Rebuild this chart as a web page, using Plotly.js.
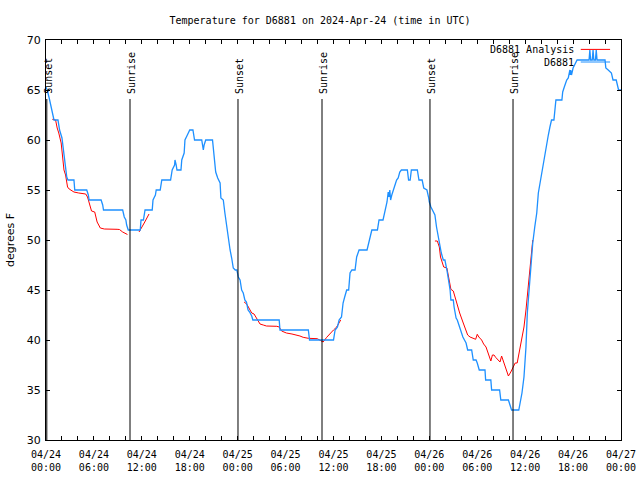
<!DOCTYPE html>
<html>
<head>
<meta charset="utf-8">
<script src="https://cdn.plot.ly/plotly-3.0.1.min.js"></script>
<style>html,body{margin:0;padding:0;background:#fff;}#chart{width:640px;height:480px;}</style>
</head>
<body>
<div id="chart"></div>
<script>
// ---- data (hours after 2024-04-24 00:00 UTC, degrees F) ----
const obsHours = [0.0,0.15,0.4,0.6,0.8,1.0,1.5,1.7,2.0,2.1,2.25,2.45,2.6,2.75,3.5,3.6,5.1,5.3,5.4,6.9,7.1,7.2,9.6,9.8,10.0,10.1,10.3,11.8,11.9,12.2,12.4,13.3,13.4,13.7,13.8,14.3,14.5,15.6,15.8,16.1,16.15,16.3,16.4,16.9,17.0,17.3,17.4,17.7,18.0,18.4,18.6,19.5,19.6,19.7,19.8,20.0,20.85,21.0,21.15,21.25,21.5,21.8,21.9,22.2,22.4,22.6,22.75,22.9,23.05,23.25,23.45,23.7,23.9,24.08,24.3,24.5,24.7,24.9,25.1,25.3,25.5,25.76,25.9,29.2,29.3,32.85,33.0,36.0,36.2,36.5,36.7,37.0,37.2,37.4,37.65,37.9,38.07,38.3,38.7,38.9,39.2,40.2,40.4,40.6,40.8,41.5,41.7,42.2,42.45,42.7,42.85,42.95,43.05,43.15,43.3,43.5,43.7,43.9,44.1,44.3,44.5,45.25,45.4,45.6,45.75,46.5,46.7,47.1,47.3,47.7,47.9,48.0,48.2,48.4,48.7,48.9,49.1,49.3,49.5,49.75,49.95,50.2,50.4,50.6,50.7,51.0,51.1,51.35,51.5,51.75,51.95,52.2,52.4,52.6,52.8,53.3,53.5,53.85,54.0,54.25,54.97,55.05,55.7,55.8,56.8,56.95,57.9,58.1,58.3,59.2,59.4,59.6,59.85,60.1,60.27,60.5,60.7,60.95,61.2,61.45,61.65,61.85,62.07,62.3,62.5,62.7,62.9,63.1,63.3,63.6,63.85,64.6,64.7,64.9,65.2,65.4,65.6,65.65,65.7,65.8,66.0,66.5,68.0,68.1,68.2,68.4,68.5,68.6,68.8,68.9,69.0,70.0,70.1,70.4,70.8,71.0,71.4,71.7,72.0];
const obsTemps = [65.3,65,64.2,63.5,62.8,62,62,61,60.2,59.5,58.7,57.3,56.3,56,56,55,55,54.5,54,54,53.5,53,53,52.3,52,51.5,51,51,52,52,53,53,54,54.5,55,55,56,56,57,57.5,58,57.5,57,57,58,58.7,60,60.5,61,61,60,60,59.5,59,59.5,60,60,59,58,56.8,56.2,55.7,54.2,54,52.7,51.5,50.5,49.7,49,48.2,47.2,47,47,46.3,46,45,44.7,44,43.8,43,42.8,42.4,42,42,41,41,40,40,41,41.3,42,42.3,43.7,44.3,45,45,46.7,47,47,48.3,49,49,49.7,50.3,51,51,52,52,53,53.8,54.8,54.3,55,54,54.5,55,55.5,56,56.2,56.8,57,57,56,56,57,57,56,56,55.2,55,54.3,53.8,53.3,53,52.5,51.3,50.3,49.3,48.7,48,48,47,46,45,44,44,43.3,42.2,42,41.3,41,40.3,40,39.7,39,39,38,38,37.7,37,37,36,36,35,35,34,34,33.5,33,33,33.7,34.7,36.3,39.3,42.7,45,47.7,49.7,51.3,52.7,54.7,55.7,56.7,57.7,58.7,59.7,60.5,61.3,62,62,64,64,64.8,65.3,66,66.2,67,66.5,67,66.5,67.2,68,68,69,68,68,69,68,68,69,68,68,67.2,67,66.7,66,66,65,65];

const anaHours = [0.79,1.2,1.4,1.6,1.9,2.05,2.25,2.45,2.7,2.9,3.5,4.1,4.97,5.2,5.4,5.7,6.1,6.2,6.4,6.8,7.3,8.9,9.2,9.6,10.0,10.2,null,
  11.65,11.9,12.3,12.9,null,
  24.8,25.0,25.2,25.5,25.76,26.05,26.4,26.8,27.2,27.6,28.9,29.2,29.5,30.1,30.8,31.4,31.8,32.2,32.85,33.97,34.2,34.7,35.15,35.6,36.0,36.4,36.7,36.9,null,
  48.7,49.0,49.25,49.4,49.6,49.8,50.2,50.4,50.5,50.7,51.0,51.2,51.5,51.8,52.2,52.5,52.8,53.1,53.5,53.8,54.0,54.2,54.55,54.8,55.1,55.3,55.5,55.7,55.9,56.1,56.3,56.6,56.85,57.05,57.25,57.45,57.7,57.9,58.2,58.45,58.75,59.0,59.25,59.45,59.65,59.85,60.1,60.27,60.5,60.6,60.8,60.95];
const anaTemps = [62.07,62,61.2,60.7,59.7,58.5,57,56.5,55.3,55.1,54.8,54.7,54.6,54.3,53.7,52.9,52.8,52.5,51.8,51.2,51.1,51.07,51.05,50.8,50.6,50.55,null,
  50.8,51.1,51.7,52.6,null,
  43.8,43.7,43.5,43,42.7,42.6,42.07,41.6,41.5,41.4,41.37,41.3,40.9,40.7,40.6,40.5,40.4,40.27,40.17,40.13,40,39.8,40.27,40.7,41,41.3,41.8,42,null,
  49.9,49.9,49.3,48.3,47.8,47.3,47.2,46.2,45.8,45.07,44.9,44.3,43.5,42.7,41.8,41.2,40.5,40.3,40.17,40.07,40.57,40.3,40,39.6,39.3,38.8,38.3,37.9,38.5,38.5,38.27,38.0,37.8,38.4,37.9,37.5,37,36.4,36.8,37.3,37.7,37.7,38.7,39.5,40.3,41.3,43,44.3,46,47.2,48.3,50];

const sunHours = [0.1,10.52,24.04,34.56,48.08,58.48];
const sunLabels = ['Sunset','Sunrise','Sunset','Sunrise','Sunset','Sunrise'];

const seriesNames = ['D6881 Analysis','D6881'];
const seriesColors = ['#ff0000','#1e90ff'];
const titleText = 'Temperature for D6881 on 2024-Apr-24 (time in UTC)';
const yTitle = 'degrees F';

// ---- helpers ----
const T0 = Date.UTC(2024,3,24);
function hToStr(h){
  if(h===null) return null;
  const d = new Date(T0 + Math.round(h*3600000));
  return d.toISOString().slice(0,19).replace('T',' ');
}

const mono = 'DejaVu Sans Mono, Liberation Mono, monospace';
const sans = 'DejaVu Sans, Liberation Sans, sans-serif';

const traces = [
  {x: anaHours.map(hToStr), y: anaTemps, type:'scatter', mode:'lines', connectgaps:false,
   name: seriesNames[0], line:{color:seriesColors[0], width:1}, showlegend:false, hoverinfo:'skip'},
  {x: obsHours.map(hToStr), y: obsTemps, type:'scatter', mode:'lines',
   name: seriesNames[1], line:{color:seriesColors[1], width:1.3}, showlegend:false, hoverinfo:'skip'}
];

const lineTop = 0.8525;
const shapes = sunHours.map(h => ({type:'line', xref:'x', yref:'paper', x0:hToStr(h), x1:hToStr(h), y0:0, y1:lineTop,
  line:{color:'#000', width:1}, layer:'above'}));
const annotations = sunHours.map((h,i) => ({xref:'x', yref:'paper', x:hToStr(h), y:0.86, xanchor:'center', yanchor:'bottom',
  text:sunLabels[i], textangle:-90, showarrow:false, xshift:1, font:{family:mono, size:10, color:'#000'}}));

// manual legend (text left of sample line, as in reference)
const legY = [0.9765, 0.945];
seriesNames.forEach((n,i) => {
  annotations.push({xref:'paper', yref:'paper', x:0.921, y:legY[i], xanchor:'right', yanchor:'middle', text:n,
    showarrow:false, font:{family:mono, size:10, color:'#000'}});
  shapes.push({type:'line', xref:'paper', yref:'paper', x0:0.930, x1:0.981, y0:legY[i], y1:legY[i],
    line:{color:seriesColors[i], width:1}});
});

const layout = {
  width:640, height:480,
  margin:{l:46, r:19, t:40, b:40},
  paper_bgcolor:'#fff', plot_bgcolor:'#fff',
  showlegend:false,
  title:{text:titleText, font:{family:mono, size:10, color:'#000'}, x:0.5, xref:'container', y:1-20/480, yref:'container', yanchor:'middle'},
  xaxis:{type:'date', range:[hToStr(0), hToStr(72)], tick0:hToStr(0), dtick:6*3600000, tickformat:'%m/%d<br>%H:%M',
    ticks:'inside', ticklen:4, tickcolor:'#000', showline:true, linecolor:'#000', linewidth:1, mirror:'allticks',
    showgrid:false, zeroline:false, tickfont:{family:mono, size:10, color:'#000'}, ticklabelstandoff:5,
    minor:{dtick:2*3600000, tick0:hToStr(0), ticks:'inside', ticklen:4, tickcolor:'#000', showgrid:false}},
  yaxis:{range:[30,70], dtick:5, tick0:30, ticks:'inside', ticklen:4, tickcolor:'#000', showline:true, linecolor:'#000',
    linewidth:1, mirror:'allticks', showgrid:false, zeroline:false, tickfont:{family:sans, size:11, color:'#000'},
    ticklabelstandoff:2,
    title:{text:yTitle, font:{family:sans, size:11, color:'#000'}, standoff:9}},
  shapes:shapes,
  annotations:annotations
};

Plotly.newPlot('chart', traces, layout, {staticPlot:true, displayModeBar:false});
</script>
</body>
</html>
